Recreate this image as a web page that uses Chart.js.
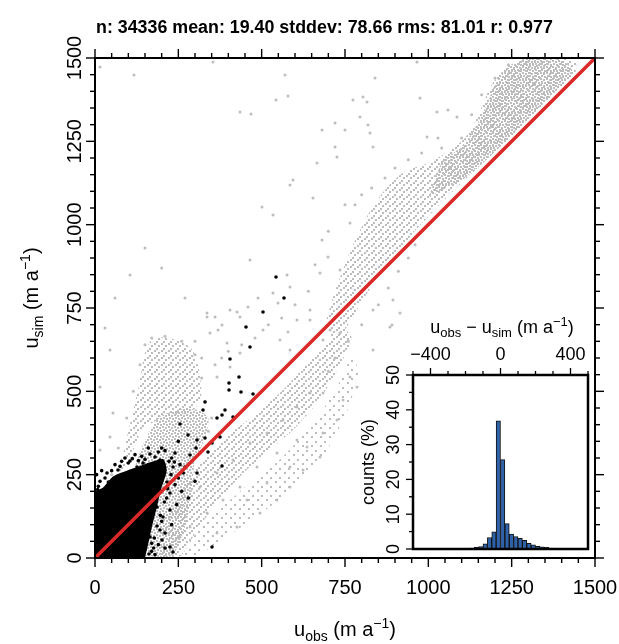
<!DOCTYPE html>
<html><head><meta charset="utf-8">
<script src="https://cdn.jsdelivr.net/npm/chart.js@4/dist/chart.umd.min.js"></script>
<style>
html,body{margin:0;padding:0;background:#fff;}
#wrap{position:relative;width:619px;height:644px;overflow:hidden;background:#fff;}
#main{position:absolute;left:0;top:0;}
#inset{position:absolute;left:355px;top:305px;}
</style></head><body>
<div id="wrap"><canvas id="main" width="619" height="644"></canvas><canvas id="inset" width="240" height="252"></canvas></div>
<script>
// ---------------- data ----------------
const titleText = 'n: 34336 mean: 19.40 stddev: 78.66 rms: 81.01 r: 0.977';
const axisTicks = [0, 250, 500, 750, 1000, 1250, 1500];
const identityLine = [[0, 0], [1500, 1500]];

// outlines of the grey point clouds (u_obs, u_sim)
const ridgeCoreOutline = [[1040,1190],[1100,1235],[1140,1290],[1175,1360],[1205,1430],[1250,1478],[1300,1500],[1395,1496],[1432,1462],[1405,1432],[1340,1360],[1270,1290],[1190,1215],[1110,1140],[1050,1110],[1000,1080]];
const ridgeOutline = [[690,700],[720,800],[770,930],[830,1050],[875,1110],[930,1160],[1000,1185],[1060,1220],[1110,1260],[1150,1330],[1190,1420],[1240,1475],[1300,1500],[1440,1492],[1440,1455],[1360,1375],[1270,1285],[1180,1200],[1100,1125],[1020,1045],[950,970],[880,880],[820,800],[760,700],[720,640]];
const fanUpperOutline = [[70,250],[100,380],[128,500],[150,615],[168,652],[205,662],[250,652],[290,628],[312,565],[318,480],[290,440],[200,420],[140,380],[100,280]];
const fanLowerOutline = [[95,200],[140,330],[190,420],[250,445],[305,445],[340,420],[330,360],[300,290],[290,200],[275,110],[250,40],[230,5],[150,5]];
const bandOutline = [[190,60],[250,180],[320,290],[400,370],[480,430],[560,500],[630,575],[690,640],[740,690],[770,660],[730,570],[670,470],[600,390],[520,320],[440,250],[370,170],[310,90],[275,30],[255,5],[200,5]];
const bandSparseOutline = [[255,5],[300,70],[380,150],[470,230],[560,300],[650,400],[720,500],[770,600],[790,560],[760,450],[700,330],[620,230],[520,150],[420,80],[330,20],[300,5]];
const blackCoreOutline = [[0,0],[0,195],[25,212],[55,245],[95,262],[135,276],[175,290],[205,296],[215,262],[200,212],[185,150],[170,90],[158,35],[150,0]];

// individual scattered grey points
const grayPoints = [
[354,1488],[570,1449],[435,1338],[468,1332],[543,1374],[579,1386],[840,1440],[774,1374],[804,1383],[816,1368],[795,1323],[819,1299],
[975,1380],[1026,1338],[1059,1344],[1086,1323],[996,1263],[1029,1260],[966,1488],[681,1284],[750,1284],[720,1305],[825,1275],[834,1233],
[726,1203],[666,1185],[720,1233],[594,1134],[585,1119],[501,1053],[654,1080],[534,1029],[465,894],[576,849],[585,813],[534,795],[549,765],
[489,780],[405,744],[435,723],[360,723],[336,723],[369,684],[606,714],[645,744],[675,855],[699,903],[681,954],[735,864],[885,693],[834,744],
[894,774],[765,1005],[15,1473],[117,1449],
[336,735],[426,738],[459,753],[381,699],[345,675],[504,684],[396,645],[435,615],[405,573],[366,543],[45,624],[54,435],[15,513],[15,324],[45,363],
[579,678],[555,654],[585,624],[645,714],[684,654],[705,684],[735,675],[765,543],[744,474],[786,513],[684,495],[726,414],[684,375],[675,303],
[624,264],[585,213],[546,174],[495,135],[426,93],[366,75],[834,624],[606,354],[546,315],[486,273],[435,213],[384,174],[336,135],[285,93],
[255,63],[315,213],[366,255],[414,294],[465,345],[516,375],[564,414],[606,453],[645,495],[516,225],[456,174],[585,273],[636,333],
[105,849],[60,780],[30,690],[150,930],[200,870],[270,780],[915,735],[891,699],
[870,1140],[900,1170],[940,1195],[980,1215],[1040,1230],[1100,1260],[1130,1330],[1160,1390],[1200,1440],[1240,1480],[830,1110],[800,1090],[780,1060],
[50,250],[70,330],[95,420],[115,500],[135,580],[150,640],[170,660],[210,665],[260,650],[300,610],[320,540],
[330,470],[350,420],[340,380],[700,560],[720,600],[760,650],[800,700],[850,760],[880,810],[910,860],[940,900],[960,940],[990,990],
[640,800],[660,880],[700,980],[750,1060],[600,760],[560,720],[520,700],[480,660],[440,640],[400,620],[380,600],[360,580],[320,600],[300,650]
];

// black (highlighted) points
const blackPoints = [
[504,738],[543,843],[567,780],[453,693],[465,633],[405,597],[432,543],[402,525],[402,504],[438,498],[474,492],[330,468],[324,444],[390,444],
[366,420],[381,429],[414,423],[255,402],[279,369],[306,354],[330,360],[375,363],[351,345],[303,330],[339,318],[285,309],[105,291],[381,276],
[306,255],[225,33],[234,18],[351,33],[165,255],[195,294],[240,315],[234,273],[270,273],[216,228],[225,195],[186,153],[204,123],[225,144],
[195,84],[201,54],[165,63],[45,213],[36,255],[69,264],[126,273],[144,285],[180,303],
[15,230],[30,240],[80,290],[120,310],[160,330],[250,240],[260,200],[245,160],[230,100],[210,30],[180,10],[280,180],[300,230],[250,350],
[10,215],[60,280],[90,300],[140,305],[200,330],[230,300],[255,280],[240,220],[215,180],[200,110],[190,40],[170,20],
[5,250],[20,262],[40,228],[75,275],[100,285],[112,298],[150,296],[165,312],[190,318],[210,322],[222,290],[228,250],[218,208],[208,168],
[196,128],[186,96],[178,60],[170,44],[162,12],[8,205],[50,262],[130,292],[185,285],[238,288],[265,255],[210,75],[176,30]
];

// inset histogram of u_obs - u_sim (bin centres, counts in %)
const histBinCenters = [-487.5,-462.5,-437.5,-412.5,-387.5,-362.5,-337.5,-312.5,-287.5,-262.5,-237.5,-212.5,-187.5,-162.5,-137.5,-112.5,-87.5,-62.5,-37.5,-12.5,12.5,37.5,62.5,87.5,112.5,137.5,162.5,187.5,212.5,237.5,262.5,287.5,312.5,337.5,362.5,387.5,412.5,437.5,462.5,487.5];
const histCounts = [0,0,0,0,0,0,0,0,0.05,0.1,0.15,0.2,0.2,0.3,0.5,0.7,1.5,3.3,4.9,36.8,25.7,7.3,4.3,3.6,3.1,2.5,1.6,1.2,0.8,0.6,0.5,0.3,0.2,0.2,0.1,0.05,0,0,0,0];
const histTopTicks = [-400, 0, 400];
const histYTicks = [0, 10, 20, 30, 40, 50];

// ---------------- drawing ----------------
const FONT = '"Liberation Sans", Arial, Helvetica, sans-serif';
const toXY = a => a.map(p => ({x: p[0], y: p[1]}));

function makePattern(size, dots, color) {
  const c = document.createElement('canvas');
  c.width = c.height = size;
  const g = c.getContext('2d');
  g.fillStyle = color;
  dots.forEach(d => g.fillRect(d[0], d[1], 2, 2));
  return g.createPattern(c, 'repeat');
}
const DOT = '#bcbcbc';
const patDense = makePattern(6, [[0,0],[3,1],[1,3],[4,4]], DOT);
const patMed = makePattern(7, [[0,0],[4,2],[2,5]], DOT);
const patSparse = makePattern(9, [[0,0],[5,4]], DOT);

function richText(ctx, parts, x, y, rot) {
  let total = 0;
  const ws = parts.map(p => { ctx.font = p[1] + 'px ' + FONT; const w = ctx.measureText(p[0]).width; total += w; return w; });
  ctx.save();
  ctx.translate(x, y);
  if (rot) ctx.rotate(rot);
  ctx.textAlign = 'left'; ctx.textBaseline = 'alphabetic'; ctx.fillStyle = '#000';
  let cx = -total / 2;
  parts.forEach((p, i) => { ctx.font = p[1] + 'px ' + FONT; ctx.fillText(p[0], cx, p[2]); cx += ws[i]; });
  ctx.restore();
}
function seg(ctx, x1, y1, x2, y2) { ctx.beginPath(); ctx.moveTo(x1, y1); ctx.lineTo(x2, y2); ctx.stroke(); }

const mainAxes = {
  id: 'mainAxes',
  afterDraw(chart) {
    const ctx = chart.ctx, a = chart.chartArea, xs = chart.scales.x, ys = chart.scales.y;
    ctx.save();
    ctx.strokeStyle = '#000';
    ctx.lineWidth = 2;
    ctx.strokeRect(a.left, a.top, a.right - a.left, a.bottom - a.top);
    ctx.lineWidth = 1.4;
    for (let v = 0; v <= 1500; v += 50) {
      const len = axisTicks.includes(v) ? 9 : 5;
      const px = xs.getPixelForValue(v), py = ys.getPixelForValue(v);
      seg(ctx, px, a.bottom, px, a.bottom + len);
      seg(ctx, px, a.top, px, a.top - len);
      seg(ctx, a.left, py, a.left - len, py);
      seg(ctx, a.right, py, a.right + len, py);
    }
    ctx.fillStyle = '#000';
    ctx.font = '20px ' + FONT;
    ctx.textAlign = 'center'; ctx.textBaseline = 'alphabetic';
    axisTicks.forEach(v => {
      ctx.fillText(String(v), xs.getPixelForValue(v), 594);
      ctx.save();
      ctx.translate(81, ys.getPixelForValue(v));
      ctx.rotate(-Math.PI / 2);
      ctx.fillText(String(v), 0, 0);
      ctx.restore();
    });
    ctx.font = 'bold 18px ' + FONT;
    const w = ctx.measureText(titleText).width;
    const fs = 18 * 457 / w;
    ctx.font = 'bold ' + fs.toFixed(2) + 'px ' + FONT;
    ctx.textAlign = 'left';
    ctx.fillText(titleText, 96, 33);
    richText(ctx, [['u', 20, 0], ['obs', 14, 5], [' (m a', 20, 0], ['\u22121', 14, -8], [')', 20, 0]], 345, 636, 0);
    richText(ctx, [['u', 20, 0], ['sim', 14, 5], [' (m a', 20, 0], ['\u22121', 14, -8], [')', 20, 0]], 38, 298, -Math.PI / 2);
    ctx.restore();
  }
};

const poly = (pts, color, order) => ({
  type: 'line', data: toXY(pts), fill: 'shape', backgroundColor: color, borderWidth: 0,
  pointRadius: 0, tension: 0.25, order: order
});

new Chart(document.getElementById('main'), {
  type: 'scatter',
  data: {
    datasets: [
      {type: 'line', data: toXY(identityLine), borderColor: '#d92a2a', borderWidth: 3.5, pointRadius: 0, fill: false, order: 0},
      {type: 'scatter', data: toXY(blackPoints), backgroundColor: '#000', borderWidth: 0, pointRadius: 1.8, order: 1},
      poly(blackCoreOutline, '#000', 2),
      {type: 'scatter', data: toXY(grayPoints), backgroundColor: '#bdbdbd', borderWidth: 0, pointRadius: 1.5, order: 3},
      poly(ridgeCoreOutline, patDense, 4),
      poly(fanLowerOutline, patDense, 5),
      poly(ridgeOutline, patMed, 6),
      poly(bandOutline, patMed, 7),
      poly(fanUpperOutline, patMed, 8),
      poly(bandSparseOutline, patSparse, 9)
    ]
  },
  options: {
    responsive: false, devicePixelRatio: 1, animation: false, events: [],
    layout: {padding: {left: 95, right: 24, top: 58, bottom: 86}},
    scales: {
      x: {type: 'linear', min: 0, max: 1500, display: false},
      y: {type: 'linear', min: 0, max: 1500, display: false}
    },
    plugins: {legend: {display: false}, tooltip: {enabled: false}, title: {display: false}}
  },
  plugins: [mainAxes]
});

const insetAxes = {
  id: 'insetAxes',
  beforeDraw(chart) {
    const ctx = chart.ctx, a = chart.chartArea;
    ctx.save(); ctx.fillStyle = '#fff';
    ctx.fillRect(a.left - 2, a.top - 2, a.right - a.left + 6, a.bottom - a.top + 6);
    ctx.restore();
  },
  afterDraw(chart) {
    const ctx = chart.ctx, a = chart.chartArea, xs = chart.scales.x, ys = chart.scales.y;
    ctx.save();
    ctx.strokeStyle = '#000';
    ctx.lineWidth = 2.5;
    ctx.strokeRect(a.left, a.top, a.right - a.left, a.bottom - a.top);
    ctx.lineWidth = 1.3;
    for (let v = -500; v <= 500; v += 100) {
      const len = histTopTicks.includes(v) ? 7 : 4;
      const px = xs.getPixelForValue(v);
      seg(ctx, px, a.top, px, a.top - len);
    }
    for (let v = 0; v <= 50; v += 5) {
      const len = histYTicks.includes(v) ? 7 : 4;
      const py = ys.getPixelForValue(v);
      seg(ctx, a.left, py, a.left - len, py);
    }
    ctx.fillStyle = '#000';
    ctx.font = '18px ' + FONT;
    ctx.textAlign = 'center'; ctx.textBaseline = 'alphabetic';
    histTopTicks.forEach(v => ctx.fillText(v < 0 ? '\u2212' + Math.abs(v) : String(v), xs.getPixelForValue(v), 55));
    histYTicks.forEach(v => {
      ctx.save(); ctx.translate(44, ys.getPixelForValue(v)); ctx.rotate(-Math.PI / 2);
      ctx.fillText(String(v), 0, 0); ctx.restore();
    });
    richText(ctx, [['counts (%)', 18, 0]], 19, 157, -Math.PI / 2);
    richText(ctx, [['u', 18, 0], ['obs', 13, 4], [' \u2212 u', 18, 0], ['sim', 13, 4], [' (m a', 18, 0], ['\u22121', 13, -7], [')', 18, 0]], 147, 28, 0);
    ctx.restore();
  }
};

new Chart(document.getElementById('inset'), {
  type: 'bar',
  data: {
    datasets: [{
      data: histBinCenters.map((c, i) => ({x: c, y: histCounts[i]})),
      backgroundColor: '#2e62ab', borderColor: '#111', borderWidth: 1,
      barPercentage: 1, categoryPercentage: 1
    }]
  },
  options: {
    responsive: false, devicePixelRatio: 1, animation: false, events: [],
    layout: {padding: {left: 58, right: 7, top: 70, bottom: 8}},
    scales: {
      x: {type: 'linear', min: -500, max: 500, offset: false, display: false},
      y: {type: 'linear', min: 0, max: 50, display: false}
    },
    plugins: {legend: {display: false}, tooltip: {enabled: false}}
  },
  plugins: [insetAxes]
});
</script>
</body></html>
